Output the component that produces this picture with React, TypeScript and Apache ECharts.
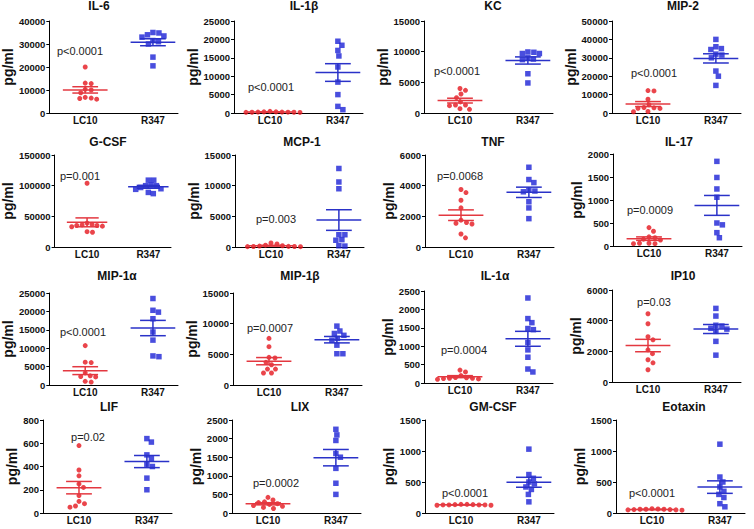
import React, { useEffect, useRef } from "react";
import * as echarts from "echarts";

// ---------- data ----------
const groupNames = ["LC10", "R347"];
const titles = ["IL-6", "IL-1β", "KC", "MIP-2", "G-CSF", "MCP-1", "TNF", "IL-17", "MIP-1α", "MIP-1β", "IL-1α", "IP10", "LIF", "LIX", "GM-CSF", "Eotaxin"];
const pValues = ["p<0.0001", "p<0.0001", "p<0.0001", "p<0.0001", "p=0.001", "p=0.003", "p=0.0068", "p=0.0009", "p<0.0001", "p=0.0007", "p=0.0004", "p=0.03", "p=0.02", "p=0.0002", "p<0.0001", "p<0.0001"];
const yMax = [40000, 25000, 15000, 50000, 150000, 15000, 6000, 2000, 25000, 15000, 2500, 6000, 800, 2500, 1500, 1500];
const yStep = [10000, 5000, 5000, 10000, 50000, 5000, 2000, 500, 5000, 5000, 500, 2000, 200, 500, 500, 500];

const lc10Values = [
  [20000, 13000, 12800, 10000, 10300, 8800, 6500, 6000, 6300, 6800],
  [250, 200, 150, 300, 200, 250, 180, 220, 300, 450],
  [4000, 3700, 3100, 2500, 1800, 1300, 1200, 1300, 600, 700],
  [12000, 12200, 7500, 4500, 2800, 2500, 3000, 2600, 800, 700],
  [104000, 39000, 36000, 35000, 34000, 35000, 33000, 37000, 24000, 25000],
  [500, 200, 100, 80, 60, 50, 80, 150, 300, 650],
  [3750, 3550, 3050, 2550, 1750, 1600, 1500, 1550, 850, 600],
  [400, 320, 180, 200, 150, 130, 60, 50, 50, 60],
  [10700, 6100, 6200, 3300, 2500, 2300, 2200, 1000, 800],
  [7600, 6250, 4500, 4400, 3700, 3300, 2600, 2600, 1950, 1950],
  [350, 300, 130, 150, 120, 110, 130, 140, 200, 100],
  [4450, 3800, 2950, 2750, 2100, 1850, 1450, 1250, 800],
  [580, 370, 320, 250, 220, 150, 100, 80, 60, 50],
  [420, 350, 300, 280, 250, 230, 200, 180, 150, 120],
  [140, 130, 135, 125, 130, 140, 135, 130, 125, 130],
  [70, 60, 55, 50, 60, 65, 55, 50, 45, 60],
];

const r347Values = [
  [35000, 34800, 34000, 33000, 33500, 31500, 31000, 30000, 24300, 20500],
  [19500, 18400, 17000, 15500, 12500, 8400, 5000, 1800, 900],
  [9900, 9700, 9700, 9950, 8800, 8700, 9000, 6400, 4900],
  [40000, 36000, 35000, 34500, 32000, 31500, 30000, 22800, 20000, 15000],
  [109000, 109000, 101000, 100000, 100000, 97000, 95000, 94000, 89000, 87000],
  [12800, 10600, 9500, 2000, 2000, 1200, 1100, 200, 150],
  [5200, 4400, 4200, 3700, 3600, 3650, 2950, 2550, 1850],
  [1840, 1490, 1240, 1060, 500, 460, 290, 180],
  [23500, 20300, 19800, 18000, 14400, 12200, 7700, 7900],
  [9600, 8800, 8400, 8100, 7600, 7300, 6500, 5100, 5100],
  [2310, 1750, 1640, 1480, 1450, 1100, 900, 700, 380, 300],
  [4800, 4300, 3650, 3700, 3450, 3300, 3500, 2650, 1750],
  [640, 610, 500, 470, 420, 400, 300, 200],
  [2250, 2100, 1950, 1600, 1500, 1200, 800, 500],
  [1030, 620, 560, 500, 470, 420, 380, 300, 180],
  [1110, 580, 500, 420, 350, 300, 250, 150, 100],
];

// ---------- layout ----------
const panelLeft = [49, 234, 424, 612, 42, 235, 425, 613, 49, 233, 424, 612, 43, 232, 425, 616];
const panelTop = [21, 21, 21, 21, 155, 155, 155, 154, 293, 293, 291, 290, 420, 420, 420, 420];
const nameGaps = [30, 28, 25, 23, 29, 26, 19, 19, 30, 25, 21, 19, 17, 25, 21, 21];
const pOffset = [30, 66, 50, 52, 21, 64, 21, 56, 39, 35, 59, 12, 17, 63, 73, 73];
const pDx = [-5, 1, -3, 6, 2, 5, -1, 1, -2, 1, 4, 6, 9, 8, 4, 0];
const titleDx = [50, 70, 69, 71, 66, 67, 68, 66, 68, 67, 71, 71, 66, 68, 68, 68];
const rowTitleY = [6, 142, 276, 407];
const W = 129;
const H = 92;
const XMIN = 0.47;
const XMAX = 2.37;

const FONT = "'Liberation Sans', Arial, Helvetica, sans-serif";
const RED = "#e5161e";
const BLUE = "#1b22d6";
const RED_LINE = "#e33840";
const BLUE_LINE = "#2a32c8";

function meanSem(v: number[]) {
  const n = v.length;
  const m = v.reduce((a, b) => a + b, 0) / n;
  const sd = Math.sqrt(v.reduce((a, b) => a + (b - m) * (b - m), 0) / (n - 1));
  return [m, sd / Math.sqrt(n)];
}

// beeswarm-style horizontal spreading (GraphPad-like column scatter)
function swarm(values: number[], max: number, ppu: number, D = 5.6) {
  const idx = values.map((_, i) => i).sort((a, b) => values[b] - values[a]);
  const placed: { x: number; y: number }[] = [];
  const out = new Array(values.length).fill(0);
  for (const i of idx) {
    const y = (values[i] / max) * H;
    let found = 0;
    for (let step = 0; step < 400; step++) {
      const cand = step === 0 ? 0 : (step % 2 ? 1 : -1) * Math.ceil(step / 2) * 0.5;
      if (placed.every((p) => (p.x - cand) ** 2 + (p.y - y) ** 2 >= D * D)) {
        found = cand;
        break;
      }
    }
    placed.push({ x: found, y });
    out[i] = found / ppu;
  }
  return out;
}

export default function App() {
  const ref = useRef<HTMLDivElement>(null);
  useEffect(() => {
    const chart = echarts.init(ref.current!, null, { renderer: "svg" });
    const ppu = W / (XMAX - XMIN);
    const grid: any[] = [];
    const xAxis: any[] = [];
    const yAxis: any[] = [];
    const series: any[] = [];
    const graphic: any[] = [];

    titles.forEach((t, i) => {
      const row = Math.floor(i / 4);
      const h = row === 3 ? 93 : H;
      grid.push({ left: panelLeft[i], top: panelTop[i], width: W, height: h });
      xAxis.push({
        type: "value",
        gridIndex: i,
        min: XMIN,
        max: XMAX,
        axisLine: { show: true, lineStyle: { color: "#000", width: 1 } },
        axisTick: { show: false },
        splitLine: { show: false },
        axisLabel: {
          customValues: [1, 2],
          formatter: (v: number) => (Math.abs(v - 1) < 1e-6 ? groupNames[0] : Math.abs(v - 2) < 1e-6 ? groupNames[1] : ""),
          fontWeight: "bold",
          fontSize: 10,
          color: "#111",
          margin: 2,
          fontFamily: FONT,
        },
      });
      yAxis.push({
        type: "value",
        gridIndex: i,
        min: 0,
        max: yMax[i],
        interval: yStep[i],
        axisLine: { show: true, lineStyle: { color: "#000", width: 1 } },
        axisTick: { show: true, length: 3, lineStyle: { color: "#000" } },
        splitLine: { show: false },
        axisLabel: {
          fontWeight: "bold",
          fontSize: 9.5,
          color: "#111",
          margin: 4,
          fontFamily: FONT,
          formatter: (v: number) => String(v),
        },
        name: "pg/ml",
        nameLocation: "middle",
        nameGap: nameGaps[i],
        nameTextStyle: { fontWeight: "bold", fontSize: 14, color: "#111", fontFamily: FONT },
      });

      const a = lc10Values[i];
      const b = r347Values[i];
      const ja = swarm(a, yMax[i], ppu);
      const jb = swarm(b, yMax[i], ppu);
      series.push({
        type: "scatter",
        xAxisIndex: i,
        yAxisIndex: i,
        symbol: "circle",
        symbolSize: 5,
        itemStyle: { color: RED },
        data: a.map((v, k) => [1 + ja[k], v]),
        z: 2,
      });
      series.push({
        type: "scatter",
        xAxisIndex: i,
        yAxisIndex: i,
        symbol: "rect",
        symbolSize: 5.5,
        itemStyle: { color: BLUE },
        data: b.map((v, k) => [2 + jb[k], v]),
        z: 2,
      });
      const [ma, sa] = meanSem(a);
      const [mb, sb] = meanSem(b);
      series.push({
        type: "custom",
        xAxisIndex: i,
        yAxisIndex: i,
        z: 3,
        data: [
          [1, ma, sa, 0],
          [2, mb, sb, 1],
        ],
        renderItem: (_p: any, api: any) => {
          const x = api.value(0);
          const m = api.value(1);
          const s = api.value(2);
          const col = api.value(3) === 0 ? RED_LINE : BLUE_LINE;
          const L = api.coord([x - 0.33, m]);
          const R = api.coord([x + 0.33, m]);
          const up = api.coord([x, m + s]);
          const dn = api.coord([x, Math.max(0, m - s)]);
          const cl = api.coord([x - 0.19, m])[0];
          const cr = api.coord([x + 0.19, m])[0];
          const st = { stroke: col, lineWidth: 1.5 };
          return {
            type: "group",
            children: [
              { type: "line", shape: { x1: L[0], y1: L[1], x2: R[0], y2: R[1] }, style: st },
              { type: "line", shape: { x1: up[0], y1: up[1], x2: dn[0], y2: dn[1] }, style: st },
              { type: "line", shape: { x1: cl, y1: up[1], x2: cr, y2: up[1] }, style: st },
              { type: "line", shape: { x1: cl, y1: dn[1], x2: cr, y2: dn[1] }, style: st },
            ],
          };
        },
      });

      const lcPx = panelLeft[i] + (1 - XMIN) * ppu;
      graphic.push({
        type: "text",
        x: lcPx + pDx[i],
        y: panelTop[i] + pOffset[i],
        style: { text: pValues[i], fontSize: 11, fill: "#222", fontFamily: FONT, textAlign: "center", textVerticalAlign: "middle" },
      });
      graphic.push({
        type: "text",
        x: panelLeft[i] + titleDx[i],
        y: rowTitleY[row],
        style: { text: t, fontSize: 12, fontWeight: "bold", fill: "#111", fontFamily: FONT, textAlign: "center", textVerticalAlign: "middle" },
      });
    });

    chart.setOption({
      animation: false,
      backgroundColor: "#fff",
      grid,
      xAxis,
      yAxis,
      series,
      graphic,
    });
    return () => chart.dispose();
  }, []);
  return <div ref={ref} style={{ position: "absolute", left: 0, top: 0, width: 754, height: 529 }} />;
}
